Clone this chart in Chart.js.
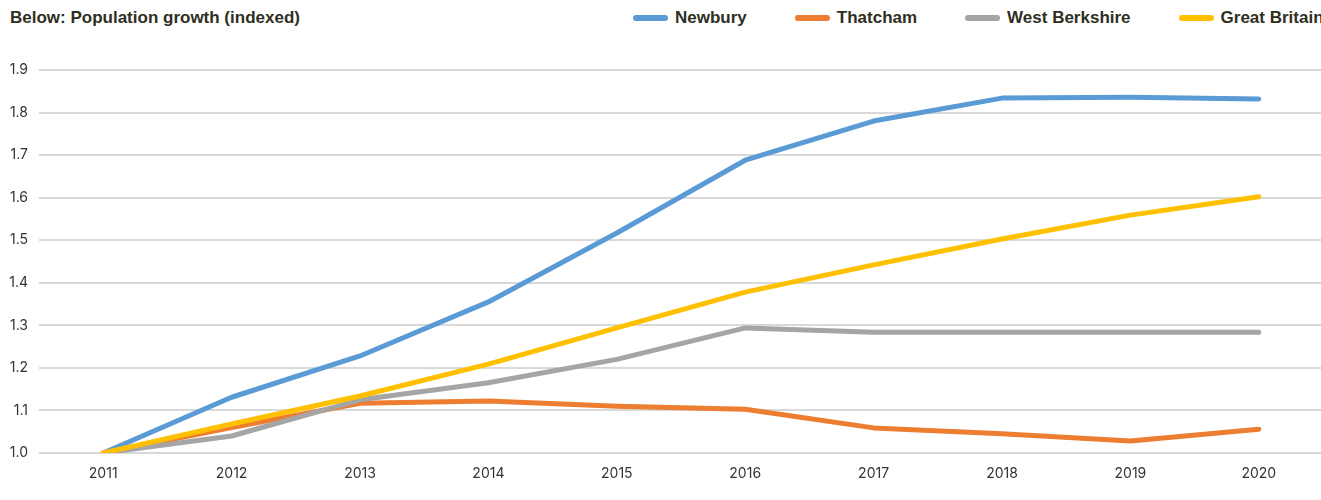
<!DOCTYPE html>
<html>
<head>
    <title>Population growth (indexed)</title>
    <script src="https://cdn.jsdelivr.net/npm/chart.js"></script>
    <style>
        html, body { margin: 0; padding: 0; background: #fff; overflow: hidden; }
        #title {
            position: absolute; left: 10px; top: 8px;
            font: bold 17px "Liberation Sans", Arial, sans-serif;
            color: #2f2f1f; white-space: nowrap;
        }
        #legend {
            position: absolute; left: 633px; top: 8px;
            display: flex; gap: 48px; white-space: nowrap;
            font: bold 17px "Liberation Sans", Arial, sans-serif;
            color: #2f2f1f;
        }
        #legend .item { display: flex; align-items: center; }
        #legend .swatch { width: 35px; height: 6px; border-radius: 3px; margin-right: 7px; margin-top: -1px; }
        #wrap { position: absolute; left: 0; top: 0; width: 1323px; height: 500px; }
    </style>
</head>
<body>
    <div id="title">Below: Population growth (indexed)</div>
    <div id="legend"></div>
    <div id="wrap"><canvas id="line-chart"></canvas></div>

    <script>
        // values
        const years = ['2011', '2012', '2013', '2014', '2015', '2016', '2017', '2018', '2019', '2020'];
        const newbury = [1.0, 1.131, 1.228, 1.355, 1.517, 1.688, 1.780, 1.834, 1.836, 1.832];
        const thatcham = [1.0, 1.060, 1.117, 1.122, 1.110, 1.103, 1.059, 1.045, 1.028, 1.056];
        const westBerkshire = [1.0, 1.040, 1.125, 1.165, 1.220, 1.294, 1.284, 1.284, 1.284, 1.284];
        const greatBritain = [1.0, 1.068, 1.134, 1.209, 1.294, 1.378, 1.442, 1.503, 1.559, 1.602];

        function series(label, data, color, order) {
            return {
                label: label,
                data: data,
                borderColor: color,
                backgroundColor: color,
                borderWidth: 5,
                pointRadius: 0,
                pointHoverRadius: 0,
                tension: 0,
                borderCapStyle: 'round',
                borderJoinStyle: 'round',
                order: order
            };
        }

        const ctx = document.getElementById('line-chart').getContext('2d');
        const chart = new Chart(ctx, {
            type: 'line',
            data: {
                labels: years,
                datasets: [
                    series('Newbury', newbury, '#5b9bd5', 4),
                    series('Thatcham', thatcham, '#ed7d31', 3),
                    series('West Berkshire', westBerkshire, '#a5a5a5', 2),
                    series('Great Britain', greatBritain, '#ffc000', 1)
                ]
            },
            options: {
                responsive: true,
                maintainAspectRatio: false,
                animation: false,
                layout: { padding: { left: 0, right: 0, top: 70, bottom: 0 } },
                plugins: {
                    tooltip: { enabled: false },
                    legend: { display: false }
                },
                scales: {
                    x: {
                        offset: true,
                        grid: { display: false },
                        border: { display: false },
                        afterFit: s => { s.height = 47; },
                        ticks: {
                            color: '#333',
                            font: { family: 'Inter', size: 14 },
                            padding: 4,
                            maxRotation: 0
                        }
                    },
                    y: {
                        min: 1.0,
                        max: 1.9,
                        afterFit: s => { s.width = 39; },
                        grid: { color: '#d9d9d9', lineWidth: 2, drawTicks: false },
                        border: { display: false },
                        ticks: {
                            stepSize: 0.1,
                            color: '#333',
                            font: { family: 'Inter', size: 14 },
                            padding: 11,
                            callback: v => v.toFixed(1)
                        }
                    }
                }
            }
        });

        // legend built from the chart's datasets
        const legendEl = document.getElementById('legend');
        chart.data.datasets.forEach(ds => {
            const item = document.createElement('div');
            item.className = 'item';
            const sw = document.createElement('span');
            sw.className = 'swatch';
            sw.style.background = ds.borderColor;
            const txt = document.createElement('span');
            txt.textContent = ds.label;
            item.appendChild(sw);
            item.appendChild(txt);
            legendEl.appendChild(item);
        });
    </script>
</body>
</html>
